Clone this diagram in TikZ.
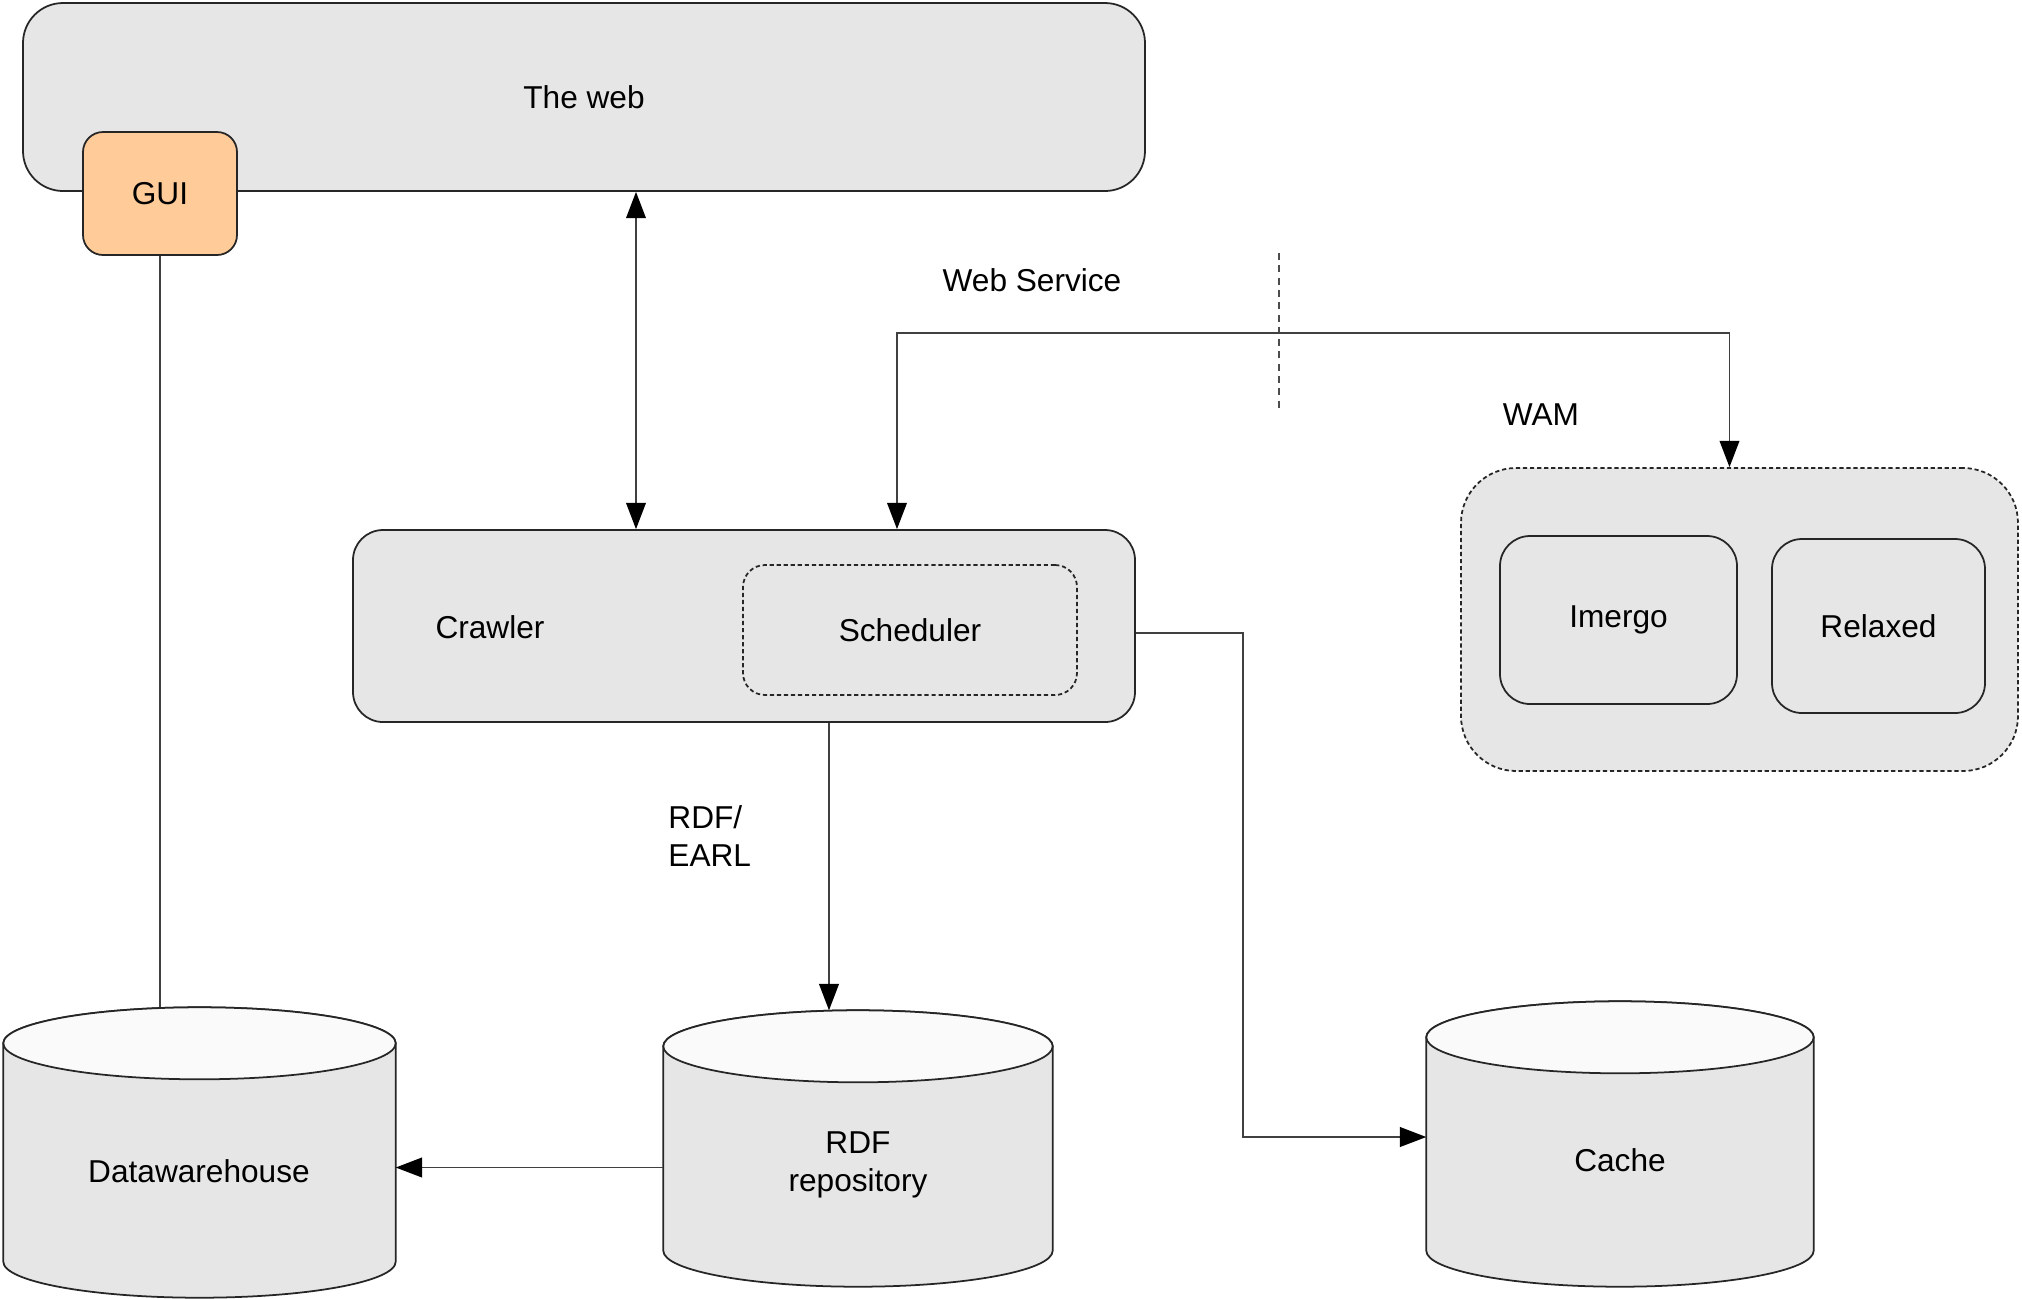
\documentclass[tikz,border=0pt]{standalone}
\usepackage{fontspec}
\setmainfont{Liberation Sans}
\usepackage{tikz}
\usetikzlibrary{calc,arrows.meta}
\definecolor{boxgray}{RGB}{230,230,230}
\definecolor{topgray}{RGB}{250,250,250}
\definecolor{guiorange}{RGB}{255,204,153}
\def\dbry{0.36cm}
\tikzset{
      box/.style={draw=black!85, fill=boxgray, rounded corners=0.35cm, line width=0.5pt, inner sep=0pt},
      dashbox/.style={box, dash pattern=on 1.2pt off 0.8pt},
      dbnode/.style={inner sep=0pt},
      dbbody/.style={draw=black!85, fill=boxgray, line width=0.5pt},
      dbtop/.style={draw=black!85, fill=topgray, line width=0.5pt},
      link/.style={draw=black!75, line width=0.5pt},
      flow/.style={link, -{Triangle[length=7.5pt,width=5.6pt,color=black]}},
      both/.style={link, {Triangle[length=7.5pt,width=5.6pt,color=black]}-{Triangle[length=7.5pt,width=5.6pt,color=black]}},
      divider/.style={draw=black!70, line width=0.4pt, dash pattern=on 2pt off 1.5pt}
}
% cylinder drawn over the area of a named node
\newcommand{\dbshape}[1]{%
      \draw[dbbody] let \p1=(#1.north west), \p2=(#1.south east), \n1={(\x2-\x1)/2} in
            (\x1,\y1-\dbry) -- (\x1,\y2+\dbry)
            arc[start angle=180, end angle=360, x radius=\n1, y radius=\dbry]
            -- (\x2,\y1-\dbry)
            arc[start angle=0, end angle=180, x radius=\n1, y radius=\dbry] -- cycle;
      \draw[dbtop] let \p1=(#1.north west), \p2=(#1.south east), \n1={(\x2-\x1)/2} in
            (\x1+\n1,\y1-\dbry) ellipse[x radius=\n1, y radius=\dbry];
}

\begin{document}
\begin{tikzpicture}[font=\fontsize{9}{11}\selectfont]
      \useasboundingbox (0,0) rectangle (20.22,-12.98);
      % web and gui
      \node (web) at (5.84,-0.97) [box, rounded corners=0.4cm, minimum width=11.22cm, minimum height=1.88cm] {The web};
      \node (gui) at (1.60,-1.935) [box, fill=guiorange, rounded corners=0.2cm, minimum width=1.54cm, minimum height=1.23cm] {GUI};
      % crawler
      \node (crawler) at (7.44,-6.26) [box, rounded corners=0.3cm, minimum width=7.82cm, minimum height=1.92cm] {};
      \node (crawlerlbl) at (4.90,-6.27) {Crawler};
      \node (sched) at (9.10,-6.30) [dashbox, rounded corners=0.22cm, minimum width=3.34cm, minimum height=1.30cm] {Scheduler};
      % wam
      \node (wam) at (17.395,-6.195) [dashbox, rounded corners=0.55cm, minimum width=5.57cm, minimum height=3.03cm] {};
      \node (imergo) at (16.185,-6.20) [box, rounded corners=0.3cm, minimum width=2.37cm, minimum height=1.68cm] {Imergo};
      \node (relaxed) at (18.785,-6.26) [box, rounded corners=0.3cm, minimum width=2.13cm, minimum height=1.74cm] {Relaxed};
      \node (wamlbl) at (15.41,-4.15) {WAM};
      \node (wslbl) at (10.32,-2.80) {Web Service};
      \draw[divider] (12.79,-2.53) -- (12.79,-4.10);
      % storage
      \node (dw) at (1.995,-11.525) [dbnode, minimum width=3.91cm, minimum height=2.89cm] {};
      \node (rdf) at (8.58,-11.485) [dbnode, minimum width=3.88cm, minimum height=2.75cm] {};
      \node (cache) at (16.20,-11.44) [dbnode, minimum width=3.86cm, minimum height=2.84cm] {};
      \dbshape{dw}
      \dbshape{rdf}
      \dbshape{cache}
      \node (dwlbl) at (1.99,-11.71) {Datawarehouse};
      \node (rdflbl) at (8.58,-11.65) [align=center] {RDF\\repository};
      \node (cachelbl) at (16.20,-11.60) {Cache};
      \node (earl) at (6.56,-8.36) [anchor=west, align=left] {RDF/\\EARL};
      % connectors
      \coordinate (webx) at (6.36,0);
      \coordinate (wsturn) at (8.97,-3.33);
      \coordinate (rdfx) at (8.29,0);
      \draw[both] (web.south -| webx) -- (crawler.north -| webx);
      \draw[both] (crawler.north -| wsturn) -- (wsturn) -| ([xshift=-1mm]wam.north);
      \draw[link] (gui.south) -- (gui.south |- dw.north);
      \draw[flow] (crawler.south -| rdfx) -- (rdf.north -| rdfx);
      \draw[flow] ([yshift=-1.9mm]rdf.west) -- ([yshift=-1.9mm]rdf.west -| dw.east);
      \draw[flow] ([yshift=-0.7mm]crawler.east) -- ++(1.07,0) |- ([yshift=0.7mm]cache.west);
\end{tikzpicture}
\end{document}
